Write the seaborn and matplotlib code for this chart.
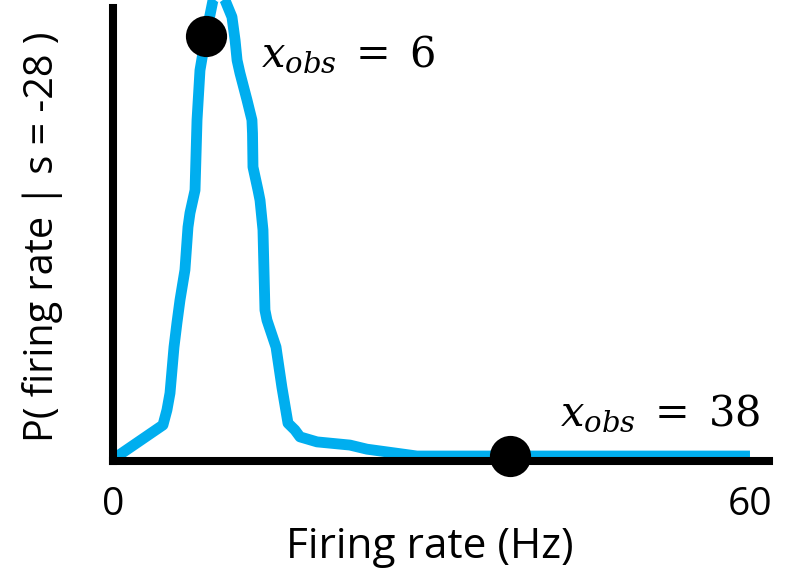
import numpy as np
import pandas as pd
import matplotlib
matplotlib.use("Agg")
import matplotlib.pyplot as plt
import seaborn as sns

# Likelihood curve P(firing rate | s = -28), firing rate in Hz
rate_hz = [-3.75, 1.50, 1.92, 2.24, 2.66, 2.97, 3.29, 3.81, 4.13, 4.34,
           4.87, 5.08, 5.39, 6.00, 6.44, 6.76, 7.39, 8.02, 8.75, 9.08,
           9.29, 9.59, 10.33, 10.85, 10.91, 10.96, 11.49, 11.70, 12.01, 12.22,
           12.43, 13.38, 14.00, 14.64, 15.37, 15.90, 17.69, 21.15, 22.94, 28.19,
           63.19]
prob = [-0.007, 0.068, 0.101, 0.138, 0.239, 0.292, 0.342, 0.408, 0.502, 0.533,
        0.583, 0.737, 0.846, 0.921, 0.967, 1.000, 1.018, 1.000, 0.963, 0.912,
        0.868, 0.840, 0.781, 0.737, 0.708, 0.634, 0.583, 0.561, 0.496, 0.320,
        0.298, 0.239, 0.151, 0.072, 0.057, 0.042, 0.031, 0.024, 0.015, 0.000,
        0.000]

# Observed firing rates marked on the curve
x_obs = [6, 38]

# Labels for the two ends of the firing-rate axis
end_labels = ["0", "60"]

x_label = "Firing rate (Hz)"
y_label = "P( firing rate | s = -28 )"

sns.set_theme(style="white")
plt.rcParams["mathtext.fontset"] = "dejavuserif"
plt.rcParams["font.family"] = ["Open Sans", "DejaVu Sans"]
plt.rcParams["text.color"] = "black"

curve = pd.DataFrame({"rate": rate_hz, "p": prob})
obs = pd.DataFrame({"rate": x_obs,
                    "p": np.interp(x_obs, rate_hz, prob)})

fig = plt.figure(figsize=(7.88, 5.72), dpi=100)
ax = fig.add_axes([0.1428, 0.1932, 0.8331, 0.7923])

sns.lineplot(data=curve, x="rate", y="p", ax=ax, color="#00AEEF",
             linewidth=7.8, sort=False, estimator=None, clip_on=False,
             solid_joinstyle="round", solid_capstyle="butt", zorder=2)
sns.scatterplot(data=obs, x="rate", y="p", ax=ax, color="black", s=880,
                linewidth=0, zorder=3, clip_on=False, legend=False)

math_kw = dict(fontsize=30, ha="left", va="baseline", color="black",
               textcoords="offset points", annotation_clip=False)
ax.annotate(rf"$x_{{obs}}\;=\;{x_obs[0]}$", xy=(obs.rate[0], obs.p[0]),
            xytext=(40, -22), **math_kw)
ax.annotate(rf"$x_{{obs}}\;=\;{x_obs[1]}$", xy=(obs.rate[1], obs.p[1]),
            xytext=(36, 22), **math_kw)

ax.set_xlim(-3.80, 65.19)
ax.set_ylim(-0.012, 0.982)

ax.set_xticks([rate_hz[0], rate_hz[-1]], end_labels)
ax.set_yticks([])
ax.tick_params(axis="x", length=0, pad=18, labelsize=28, colors="black")

ax.set_xlabel(x_label, fontsize=30.5, color="black", va="baseline")
ax.xaxis.set_label_coords(0.484, -0.213)
ax.set_ylabel(y_label, fontsize=28.5, color="black", va="center")
ax.yaxis.set_label_coords(-0.107, 0.4965)

sns.despine(ax=ax)
for side in ("left", "bottom"):
    ax.spines[side].set_linewidth(5.8)
    ax.spines[side].set_color("black")

fig.savefig("out.png", dpi=100)
